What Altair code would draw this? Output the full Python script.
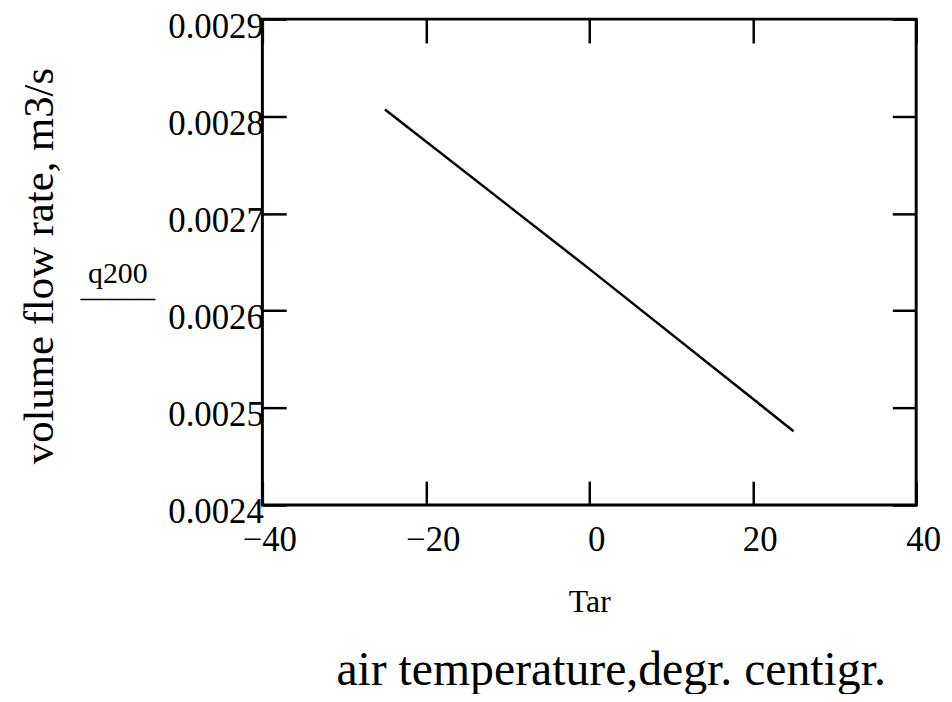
import altair as alt
import pandas as pd

# Data
tar = [-25, 0, 25]
q200 = [0.002807, 0.002643, 0.002476]

x_ticks = [-40, -20, 0, 20, 40]
y_ticks = [0.0024, 0.0025, 0.0026, 0.0027, 0.0028, 0.0029]

df = pd.DataFrame({"Tar": tar, "q200": q200})

FONT = "Liberation Serif"
W, H = 658, 489

xscale = alt.Scale(domain=[-40, 40], nice=False, zero=False)
yscale = alt.Scale(domain=[0.0024, 0.0029], nice=False, zero=False)

tick_kw = dict(ticks=True, tickSize=24, tickWidth=2.5, tickColor="black",
               labels=False, domain=False, grid=False, title=None)

# Layer A: the curve, labels and titles
layer_a = alt.Chart(df).mark_line(color="black", strokeWidth=2.5).encode(
    x=alt.X("Tar:Q", scale=xscale, axis=alt.Axis(
        orient="bottom", values=x_ticks, ticks=False, domain=False, grid=False,
        labelFont=FONT, labelFontSize=35, labelColor="black",
        labelPadding=18, labelOffset=7, labelFlush=False, labelOverlap=False,
        title="Tar", titleFont=FONT, titleFontSize=32, titleFontWeight="normal",
        titleColor="black", titlePadding=29)),
    y=alt.Y("q200:Q", scale=yscale, axis=alt.Axis(
        orient="left", values=y_ticks, format=".4f", ticks=False, domain=False, grid=False,
        labelFont=FONT, labelFontSize=35, labelColor="black",
        labelAlign="right", labelBaseline="middle", labelPadding=-1, labelOffset=7,
        labelFlush=False, labelOverlap=False,
        title="volume flow rate, m3/s", titleFont=FONT, titleFontSize=43,
        titleFontWeight="normal", titleColor="black", titleAngle=270,
        titleAlign="center", titleBaseline="middle", titleX=-224, titleY=248)),
)

# Layer B: inward ticks on bottom edge and left edge; carries the underlined trace name
layer_b = alt.Chart(df).mark_line(strokeOpacity=0).encode(
    x=alt.X("Tar:Q", scale=xscale, axis=alt.Axis(orient="top", offset=-H, values=x_ticks, **tick_kw)),
    y=alt.Y("q200:Q", scale=yscale, axis=alt.Axis(
        orient="right", offset=-W, values=y_ticks,
        ticks=True, tickSize=24, tickWidth=2.5, tickColor="black",
        labels=False, domain=False, grid=False,
        title=["q200", "–––––"], titleFont=FONT, titleFontSize=30,
        titleFontWeight="normal", titleColor="black", titleAngle=0,
        titleAlign="center", titleBaseline="alphabetic", titleLineHeight=24,
        titleX=-146, titleY=265)),
)

# Layer C: inward ticks on top edge and right edge
layer_c = alt.Chart(df).mark_line(strokeOpacity=0).encode(
    x=alt.X("Tar:Q", scale=xscale, axis=alt.Axis(orient="bottom", offset=-H, values=x_ticks, **tick_kw)),
    y=alt.Y("q200:Q", scale=yscale, axis=alt.Axis(orient="left", offset=-W, values=y_ticks, **tick_kw)),
)

chart = alt.layer(layer_a, layer_b, layer_c).resolve_axis(
    x="independent", y="independent"
).properties(
    width=W, height=H,
    background="white",
    autosize=alt.AutoSizeParams(type="none"),
    padding={"left": 256, "top": 9, "right": 28, "bottom": 188},
    title=alt.TitleParams(
        text="air temperature,degr. centigr.", orient="bottom", anchor="middle",
        font=FONT, fontSize=48, fontWeight="normal", color="black",
        offset=30, dx=22),
).configure_view(stroke="black", strokeWidth=3)

chart.save("out.html", embed_options={"renderer": "svg", "actions": False})
